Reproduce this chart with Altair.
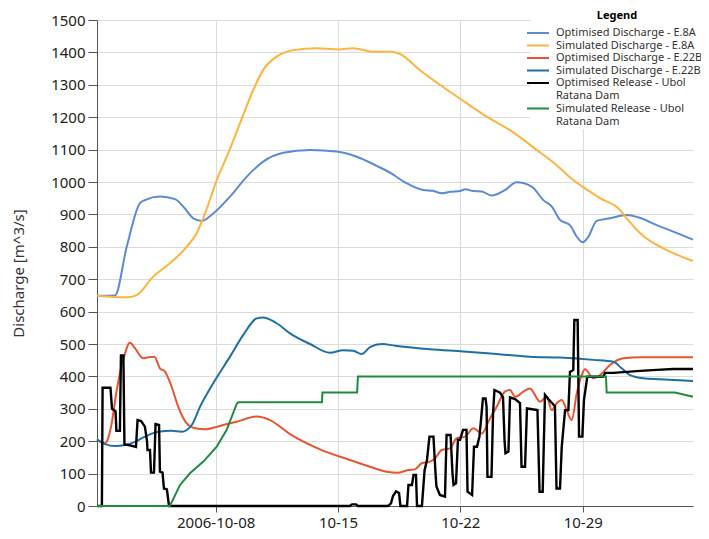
import altair as alt
import pandas as pd

SERIES = [
    "Optimised Discharge - E.8A",
    "Simulated Discharge - E.8A",
    "Optimised Discharge - E.22B",
    "Simulated Discharge - E.22B",
    "Optimised Release - Ubol Ratana Dam",
    "Simulated Release - Ubol Ratana Dam",
]
COLORS = ["#5B8BD2", "#FFB340", "#EA5430", "#1F6FA5", "#000000", "#1E8B3E"]

# day offsets from 2006-10-01 00:00 and values [m^3/s]
opt_e8a_day = [0.21, 1.24, 1.91, 2.67, 2.95, 3.81, 4.67, 5.15, 5.72, 6.20, 6.86, 7.82, 8.77, 9.72,
               10.87, 12.40, 13.92, 15.07, 16.21, 16.97, 17.83, 18.88, 19.43, 19.93, 20.41, 20.98,
               21.27, 21.74, 22.22, 22.79, 23.55, 24.22, 25.08, 25.75, 26.23, 26.70, 27.27, 27.66,
               28.00, 28.32, 28.80, 29.56, 30.52, 31.18, 32.23, 33.18, 34.31]
opt_e8a_val = [649, 650, 800, 935, 944, 955, 947, 924, 888, 880, 903, 955, 1016, 1063,
               1090, 1099, 1094, 1078, 1050, 1029, 999, 975, 973, 965, 970, 972,
               978, 972, 971, 958, 975, 999, 986, 944, 924, 883, 867, 831,
               814, 831, 880, 888, 898, 891, 867, 847, 822]

sim_e8a_day = [0.21, 1.91, 2.48, 3.43, 4.38, 5.34, 5.91, 6.39, 7.06, 7.72, 8.39, 9.15, 9.72, 10.49,
               11.44, 12.78, 14.02, 14.87, 16.02, 16.97, 17.55, 18.69, 19.83, 21.04, 22.41, 23.84,
               25.37, 26.51, 27.46, 28.03, 28.99, 30.13, 30.52, 31.47, 32.61, 34.31]
sim_e8a_val = [649, 644, 651, 708, 749, 800, 842, 903, 1006, 1089, 1181, 1284, 1346, 1387,
               1407, 1413, 1409, 1413, 1402, 1402, 1395, 1345, 1300, 1255, 1205, 1160,
               1099, 1052, 1006, 984, 950, 914, 888, 833, 795, 756]

opt_e22b_day = [0.21, 0.61, 0.76, 1.05, 1.34, 1.71, 2.10, 2.38, 2.86, 3.14, 3.49, 3.81, 4.10, 4.48,
                4.86, 5.34, 5.82, 6.39, 7.43, 8.20, 9.35, 10.11, 11.25, 12.97, 14.68, 15.83, 16.78,
                17.45, 18.02, 18.40, 18.79, 19.26, 19.55, 19.93, 20.41, 20.79, 21.27, 21.74, 22.22,
                22.70, 23.08, 23.55, 23.84, 24.13, 24.60, 24.98, 25.56, 25.94, 26.23, 26.51, 26.80,
                27.08, 27.37, 27.66, 27.94, 28.13, 28.61, 28.99, 29.56, 30.32, 31.28, 34.31]
opt_e22b_val = [205, 193, 198, 255, 358, 451, 504, 487, 456, 459, 461, 425, 415, 368,
                306, 255, 240, 237, 250, 260, 276, 265, 222, 175, 142, 121, 106,
                103, 111, 113, 132, 137, 147, 173, 178, 209, 214, 240, 224,
                271, 306, 353, 358, 337, 353, 363, 322, 337, 296, 317, 327,
                296, 265, 348, 404, 422, 394, 404, 435, 456, 459, 459]

sim_e22b_day = [0.21, 0.67, 1.24, 1.81, 2.38, 2.95, 3.72, 4.48, 5.05, 5.63, 6.10, 6.86, 7.82, 8.58,
                9.35, 9.72, 10.49, 11.25, 12.40, 13.54, 14.30, 14.87, 15.35, 15.83, 16.50, 17.36,
                19.26, 21.17, 23.08, 24.98, 26.70, 28.61, 29.75, 30.23, 30.71, 31.47, 32.42, 34.31]
sim_e22b_val = [206, 191, 185, 188, 198, 214, 229, 232, 229, 250, 306, 379, 461, 528,
                579, 582, 564, 533, 500, 473, 481, 479, 469, 490, 500, 494,
                484, 477, 469, 461, 458, 451, 445, 425, 404, 394, 391, 386]

opt_rel_day = [0.21, 0.49, 0.53, 0.98, 1.07, 1.27, 1.32, 1.52, 1.58, 1.72, 1.78, 2.10, 2.44, 2.53,
               2.73, 2.95, 3.07, 3.10, 3.24, 3.30, 3.47, 3.56, 3.76, 3.81, 3.96, 4.04, 4.21, 4.33,
               14.68, 14.80, 15.03, 15.14, 16.86, 17.03, 17.14, 17.32, 17.49, 17.57, 17.95, 18.03,
               18.23, 18.32, 18.46, 18.52, 18.80, 18.95, 19.09, 19.23, 19.46, 19.58, 19.63, 19.83,
               20.12, 20.21, 20.44, 20.55, 20.61, 20.75, 20.86, 20.98, 21.15, 21.35, 21.41, 21.67,
               21.78, 21.95, 22.09, 22.18, 22.29, 22.44, 22.50, 22.55, 22.78, 22.87, 22.95, 23.27,
               23.44, 23.53, 23.58, 23.75, 23.84, 24.13, 24.41, 24.50, 24.70, 24.81, 25.41, 25.53,
               25.71, 25.84, 26.03, 26.41, 26.50, 26.70, 26.80, 26.99, 27.18, 27.27, 27.46, 27.52,
               27.71, 27.79, 27.98, 28.07, 28.26, 29.18, 29.28, 29.75, 30.52, 31.28, 32.23, 33.18,
               34.31]
opt_rel_val = [0, 0, 365, 365, 300, 292, 232, 232, 465, 465, 190, 187, 182, 265,
               262, 245, 200, 173, 173, 103, 103, 253, 250, 106, 103, 54, 51, 0,
               0, 5, 5, 0, 0, 8, 30, 45, 40, 0, 0, 65,
               65, 96, 96, 0, 0, 110, 142, 214, 214, 100, 60, 34,
               29, 219, 219, 100, 65, 70, 204, 204, 235, 235, 44, 34,
               183, 183, 214, 265, 332, 332, 306, 90, 90, 286, 358, 350,
               335, 200, 163, 168, 335, 330, 318, 121, 121, 301, 296, 44,
               44, 343, 330, 308, 54, 54, 183, 296, 296, 414, 420, 574,
               574, 214, 214, 327, 399, 399, 411, 411, 414, 417, 420, 423,
               423]

sim_rel_day = [0.21, 4.38, 4.96, 5.53, 6.29, 7.06, 7.63, 8.20, 8.29, 13.08, 13.11, 15.09, 15.14,
               29.33, 29.37, 33.28, 34.31]
sim_rel_val = [0, 0, 65, 101, 137, 183, 235, 315, 320, 320, 350, 350, 400,
               400, 350, 350, 337]

TICK_DATES = [(10, 8), (10, 15), (10, 22), (10, 29)]
Y_TICKS = list(range(0, 1501, 100))

series_data = [
    (opt_e8a_day, opt_e8a_val),
    (sim_e8a_day, sim_e8a_val),
    (opt_e22b_day, opt_e22b_val),
    (sim_e22b_day, sim_e22b_val),
    (opt_rel_day, opt_rel_val),
    (sim_rel_day, sim_rel_val),
]

origin = pd.Timestamp("2006-10-01 00:00:00")
frames = []
for name, (days, vals) in zip(SERIES, series_data):
    frames.append(pd.DataFrame({
        "time": origin + pd.to_timedelta(days, unit="D"),
        "value": vals,
        "series": name,
    }))
df = pd.concat(frames, ignore_index=True)
df["time"] = df["time"].dt.round("s")

FONT = "Noto Sans"

color = alt.Color(
    "series:N",
    scale=alt.Scale(domain=SERIES, range=COLORS),
    legend=alt.Legend(
        title="Legend",
        orient="none",
        legendX=433,
        legendY=-12,
        padding=2,
        fillColor="white",
        titleAnchor="middle",
        titleFont=FONT,
        titleFontSize=11,
        titleFontWeight="bold",
        titleColor="#000",
        titlePadding=6,
        labelFont=FONT,
        labelFontSize=11,
        labelColor="#333",
        labelLimit=0,
        labelOffset=12,
        labelExpr="indexof(datum.label, ' Ratana') >= 0 ? [substring(datum.label, 0, indexof(datum.label, ' Ratana')), 'Ratana Dam'] : datum.label",
        symbolType="M-2.4,0H2.4",
        symbolSize=84,
        symbolStrokeWidth=2,
        rowPadding=1.5,
    ),
)

x_enc = alt.X(
    "time:T",
    scale=alt.Scale(
        domain=[alt.DateTime(year=2006, month=10, date=1, hours=5, minutes=2),
                alt.DateTime(year=2006, month=11, date=4, hours=7, minutes=26)],
        nice=False,
    ),
    axis=alt.Axis(
        values=[alt.DateTime(year=2006, month=m, date=d) for m, d in TICK_DATES],
        labelExpr="datum.index == 0 ? timeFormat(datum.value, '%Y-%m-%d') : timeFormat(datum.value, '%m-%d')",
        title=None,
        tickSize=6,
        labelPadding=3,
    ),
)
y_enc = alt.Y(
    "value:Q",
    scale=alt.Scale(domain=[0, 1500], nice=False),
    axis=alt.Axis(
        values=Y_TICKS,
        format="d",
        title="Discharge [m^3/s]",
        tickSize=9,
        labelPadding=3,
        titleX=-79,
        titleY=253,
        titleBaseline="middle",
        titleAlign="center",
    ),
)

layers = []
for i, name in enumerate(SERIES):
    layers.append(
        alt.Chart(df)
        .transform_filter(alt.datum.series == name)
        .mark_line(
            interpolate="monotone" if i < 4 else "linear",
            strokeWidth=2.4 if i == 4 else 2,
        )
        .encode(x=x_enc, y=y_enc, color=color)
    )

chart = (
    alt.layer(*layers)
    .properties(
        width=596,
        height=486,
        autosize=alt.AutoSizeParams(type="none"),
        padding={"left": 89, "top": 12, "right": 8, "bottom": 25},
    )
    .configure_view(stroke=None)
    .configure_axis(
        gridColor="#dcdcdc",
        gridWidth=1,
        domainColor="#555",
        tickColor="#555",
        labelFont=FONT,
        labelFontSize=15,
        labelColor="#222",
        titleFont=FONT,
        titleFontSize=15,
        titleFontWeight="normal",
        titleColor="#333",
    )
)

chart.save("out.html", embed_options={"renderer": "svg", "actions": False})
